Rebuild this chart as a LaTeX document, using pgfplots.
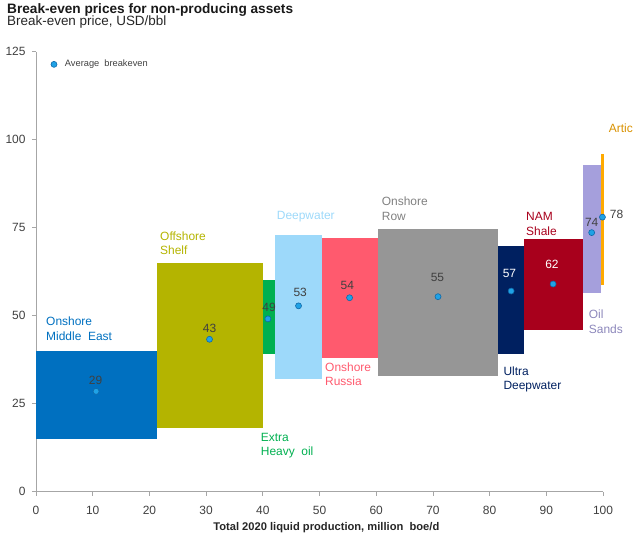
\documentclass[border=0pt]{standalone}
\usepackage{fontspec}
\setmainfont{Liberation Sans}
\usepackage{pgfplots}
\pgfplotsset{compat=1.18}

\definecolor{cME}{HTML}{0070C0}
\definecolor{cShelf}{HTML}{B4B400}
\definecolor{cXH}{HTML}{00B050}
\definecolor{cDW}{HTML}{9DD9FA}
\definecolor{cRU}{HTML}{FF5A6E}
\definecolor{cRow}{HTML}{969696}
\definecolor{cUDW}{HTML}{002060}
\definecolor{cNAM}{HTML}{A8001C}
\definecolor{cOS}{HTML}{A59FDC}
\definecolor{cArt}{HTML}{FFAA00}
\definecolor{cPt}{HTML}{1FA2E6}
\definecolor{cPtEdge}{HTML}{1068A8}
\definecolor{txt}{HTML}{404040}
\definecolor{axgray}{HTML}{A6A6A6}

\begin{document}
\begin{tikzpicture}[x=1bp,y=1bp]
\path[use as bounding box] (0,0) rectangle (640,542);

\begin{axis}[
  at={(36bp,50.3bp)}, anchor=south west,
  scale only axis, width=567bp, height=440bp,
  xmin=0, xmax=100, ymin=0, ymax=125,
  axis x line*=bottom, axis y line*=left,
  axis line style={axgray, line width=0.8bp, -},
  xtick={0,10,...,100}, ytick={0,25,...,125},
  tick align=outside, major tick length=4bp,
  tick style={axgray, line width=0.8bp},
  tick label style={font=\fontsize{12}{14}\selectfont, text=txt},
  xticklabel style={yshift=-7bp},
  yticklabel style={xshift=-3bp},
  /pgf/number format/assume math mode=true,
  clip=false,
  legend style={at={(axis description cs:0.0208,0.99)}, anchor=north west,
    draw=none, fill=none, font=\fontsize{9.3}{11}\selectfont, text=txt},
  legend cell align=left,
]
% boxes: (x0,lo) (x1,lo) (x1,hi) (x0,hi)
\addplot[draw=none, fill=cME, forget plot] coordinates {(0,15) (21.3,15) (21.3,40) (0,40)} --cycle;
\addplot[draw=none, fill=cShelf, forget plot] coordinates {(21.3,18) (40,18) (40,65) (21.3,65)} --cycle;
\addplot[draw=none, fill=cXH, forget plot] coordinates {(40,39) (42.1,39) (42.1,60) (40,60)} --cycle;
\addplot[draw=none, fill=cDW, forget plot] coordinates {(42.1,31.9) (50.4,31.9) (50.4,72.8) (42.1,72.8)} --cycle;
\addplot[draw=none, fill=cRU, forget plot] coordinates {(50.4,38) (60.3,38) (60.3,72) (50.4,72)} --cycle;
\addplot[draw=none, fill=cRow, forget plot] coordinates {(60.3,33) (81.4,33) (81.4,74.7) (60.3,74.7)} --cycle;
\addplot[draw=none, fill=cUDW, forget plot] coordinates {(81.4,39) (86.1,39) (86.1,69.8) (81.4,69.8)} --cycle;
\addplot[draw=none, fill=cNAM, forget plot] coordinates {(86.1,45.9) (96.4,45.9) (96.4,71.9) (86.1,71.9)} --cycle;
\addplot[draw=none, fill=cOS, forget plot] coordinates {(96.4,56.4) (99.6,56.4) (99.6,92.8) (96.4,92.8)} --cycle;
\addplot[cArt, line width=3bp, forget plot] coordinates {(99.9,58.7) (99.9,95.8)};

% average breakeven
\addplot[only marks, mark=*, mark size=3bp,
  mark options={fill=cPt, draw=cPtEdge, line width=0.6bp}] coordinates {
  (10.6,28.5) (30.6,43.3) (40.9,49.1) (46.3,52.8) (55.3,55.1)
  (70.9,55.4) (83.8,57.0) (91.2,59.0) (98.0,73.6) (99.9,78.0)
};
\addlegendentry{\hspace{6bp}Average\ \ breakeven}

% value labels
\begin{scope}[every node/.style={font=\fontsize{12}{14}\selectfont, text=txt, inner sep=0pt}]
\node at (axis cs:10.5,31.7) {29};
\node at (axis cs:30.6,46.4) {43};
\node at (axis cs:41.1,52.4) {49};
\node at (axis cs:46.6,56.6) {53};
\node at (axis cs:54.9,58.5) {54};
\node at (axis cs:70.8,60.8) {55};
\node[text=white] at (axis cs:83.5,62.0) {57};
\node[text=white] at (axis cs:91.0,64.6) {62};
\node at (axis cs:98.0,76.4) {74};
\node at (axis cs:102.4,78.9) {78};
\end{scope}
\end{axis}

% titles
\node[anchor=base west, inner sep=0pt, font=\bfseries\fontsize{13.7}{16}\selectfont, text=black!90] at (7,528.7) {Break-even prices for non-producing assets};
\node[anchor=base west, inner sep=0pt, font=\fontsize{13.5}{16}\selectfont, text=black!85] at (7,516) {Break-even price, USD/bbl};
\node[anchor=base, inner sep=0pt, font=\bfseries\fontsize{11.2}{13}\selectfont, text=black!85] at (326.3,11) {Total 2020 liquid production, million\ \ boe/d};

% category labels (anchor = baseline of the last line)
\begin{scope}[every node/.style={anchor=base west, inner sep=0pt, align=left, font=\fontsize{12}{15}\selectfont}]
\node[text=cME] at (46,201.5) {Onshore\\Middle\ \ East};
\node[text=cShelf] at (160,287) {Offshore\\Shelf};
\node[text=cXH] at (260.7,86) {Extra\\Heavy\ \ oil};
\node[text=cDW] at (276.7,322) {Deepwater};
\node[text=cRU] at (325,156) {Onshore\\Russia};
\node[text=gray] at (381.7,321.5) {Onshore\\Row};
\node[text=cUDW] at (503.3,152) {Ultra\\Deepwater};
\node[text=cNAM] at (526,306.2) {NAM\\Shale};
\node[text=cOS!85!black] at (588.7,208.2) {Oil\\Sands};
\node[text=cArt!85!black] at (608.7,409.2) {Artic};
\end{scope}
\end{tikzpicture}
\end{document}
